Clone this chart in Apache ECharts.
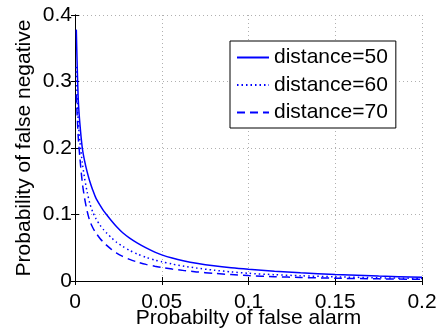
<!DOCTYPE html>
<html>
<head>
<meta charset="utf-8">
<script src="https://cdn.jsdelivr.net/npm/echarts@6/dist/echarts.min.js"></script>
<style>
html,body{margin:0;padding:0;background:#fff;}
#c{width:441px;height:331px;}
</style>
</head>
<body>
<div id="c"></div>
<script>
// ---- data ----
var seriesNames = ['distance=50', 'distance=60', 'distance=70'];
var xTicks = [0, 0.05, 0.1, 0.15, 0.2];
var yTicks = [0, 0.1, 0.2, 0.3, 0.4];

// Probability of false alarm (x)
var pfa = [0.00075, 0.0012, 0.0019, 0.0028, 0.0042, 0.0055, 0.007, 0.0085, 0.0102, 0.012, 0.0144, 0.0165, 0.0183, 0.021, 0.024, 0.0275, 0.0315, 0.036, 0.041, 0.046, 0.05, 0.056, 0.063, 0.07, 0.08, 0.09, 0.1, 0.115, 0.13, 0.15, 0.175, 0.2];
// Probability of false negative (y)
var pmd50 = [0.378, 0.33, 0.272, 0.237, 0.2, 0.181, 0.164, 0.15, 0.137, 0.125, 0.114, 0.1055, 0.0995, 0.0905, 0.0815, 0.0725, 0.0645, 0.057, 0.0498, 0.0435, 0.0393, 0.0345, 0.0302, 0.0268, 0.0229, 0.0199, 0.0176, 0.0147, 0.0124, 0.0098, 0.0074, 0.0056];
var pmd60 = [0.322, 0.28, 0.238, 0.21, 0.178, 0.155, 0.134, 0.117, 0.104, 0.094, 0.084, 0.077, 0.072, 0.065, 0.058, 0.052, 0.046, 0.0405, 0.0355, 0.0315, 0.029, 0.0255, 0.0222, 0.0195, 0.0163, 0.0138, 0.0116, 0.0095, 0.0079, 0.0063, 0.0048, 0.0037];
var pmd70 = [0.28, 0.252, 0.215, 0.186, 0.148, 0.125, 0.105, 0.0905, 0.0805, 0.0725, 0.064, 0.058, 0.0535, 0.0475, 0.042, 0.037, 0.0325, 0.0285, 0.025, 0.0222, 0.0204, 0.018, 0.0156, 0.0137, 0.0115, 0.0097, 0.0082, 0.0065, 0.0053, 0.0042, 0.0032, 0.0025];

function pairs(xs, ys){ return xs.map(function(x,i){ return [x, ys[i]]; }); }
function fmt(v){ return String(+(+v).toFixed(3)); }

var FONT = 'Liberation Sans';
var FS = 21;
var chart = echarts.init(document.getElementById('c'), null, {renderer:'canvas'});

var axisLineStyle = {show:true, lineStyle:{color:'#000', width:1}};
var gridLine = {show:true, lineStyle:{color:'#b0b0b0', type:[1,3], width:1}};

chart.setOption({
  animation:false,
  backgroundColor:'#fff',
  grid:{left:75, right:19, top:15, bottom:50, containLabel:false, outerBoundsMode:'none'},
  xAxis:[{
    type:'value', min:xTicks[0], max:xTicks[xTicks.length-1], interval:0.05,
    position:'bottom',
    name:'Probabilty of false alarm', nameLocation:'middle', nameGap:27, nameMoveOverlap:false,
    nameTextStyle:{fontFamily:FONT, fontSize:FS, color:'#000'},
    axisLine:axisLineStyle,
    axisTick:{show:true, inside:true, length:4, lineStyle:{color:'#000'}},
    axisLabel:{fontFamily:FONT, fontSize:FS, color:'#000', margin:11, formatter:fmt},
    splitLine:gridLine
  },{
    type:'value', min:xTicks[0], max:xTicks[xTicks.length-1], interval:0.05,
    position:'top',
    axisLine:axisLineStyle,
    axisTick:{show:true, inside:true, length:4, lineStyle:{color:'#000'}},
    axisLabel:{show:false}, splitLine:{show:false}
  }],
  yAxis:[{
    type:'value', min:yTicks[0], max:yTicks[yTicks.length-1], interval:0.1,
    position:'left',
    name:'Probability of false negative', nameLocation:'middle', nameGap:40, nameMoveOverlap:false,
    nameTextStyle:{fontFamily:FONT, fontSize:FS, color:'#000'},
    axisLine:axisLineStyle,
    axisTick:{show:true, inside:true, length:4, lineStyle:{color:'#000'}},
    axisLabel:{fontFamily:FONT, fontSize:FS, color:'#000', margin:3, formatter:fmt},
    splitLine:gridLine
  },{
    type:'value', min:yTicks[0], max:yTicks[yTicks.length-1], interval:0.1,
    position:'right',
    axisLine:axisLineStyle,
    axisTick:{show:true, inside:true, length:4, lineStyle:{color:'#000'}},
    axisLabel:{show:false}, splitLine:{show:false}
  }],
  legend:{
    orient:'vertical', left:230, top:41,
    padding:[6,8,5,6],
    itemWidth:32, itemHeight:14, itemGap:6.5,
    backgroundColor:'#fff', borderColor:'#000', borderWidth:1, borderRadius:0,
    itemStyle:{opacity:0},
    textStyle:{fontFamily:FONT, fontSize:FS, color:'#000'},
    data:seriesNames
  },
  series:[
    {name:seriesNames[0], type:'line', data:pairs(pfa,pmd50), smooth:0.25, symbol:'none', showSymbol:false,
     lineStyle:{color:'#0000ff', width:1.5, type:'solid'}, itemStyle:{color:'#0000ff'}, z:5},
    {name:seriesNames[1], type:'line', data:pairs(pfa,pmd60), smooth:0.25, symbol:'none', showSymbol:false,
     lineStyle:{color:'#0000ff', width:1.5, type:[1.5,3]}, itemStyle:{color:'#0000ff'}, z:4},
    {name:seriesNames[2], type:'line', data:pairs(pfa,pmd70), smooth:0.25, symbol:'none', showSymbol:false,
     lineStyle:{color:'#0000ff', width:1.5, type:[8,5]}, itemStyle:{color:'#0000ff'}, z:3}
  ]
});
</script>
</body>
</html>
